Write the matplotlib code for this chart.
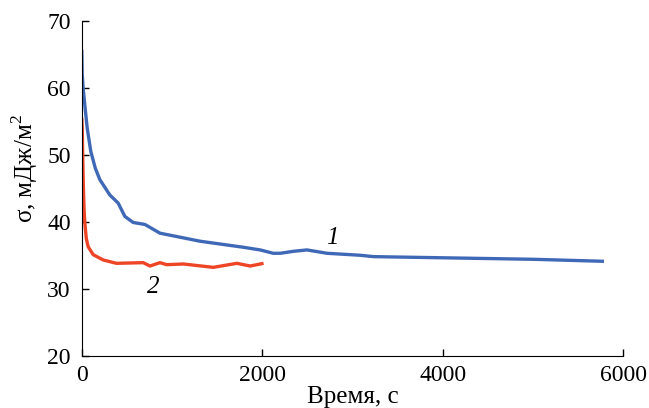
import matplotlib.pyplot as plt
import matplotlib as mpl

mpl.rcParams['font.family'] = 'Liberation Serif'
mpl.rcParams['font.size'] = 17
mpl.rcParams['mathtext.fontset'] = 'custom'
mpl.rcParams['mathtext.rm'] = 'Liberation Serif'

# curve 1 (blue)
t1 = [0, 5, 15, 33, 60, 100, 150, 200, 311, 403, 478, 570, 700, 867, 1015,
      1311, 1790, 1978, 2122, 2200, 2350, 2496, 2718, 3089, 3233, 4122, 5011, 5789]
s1 = [65.7, 62.0, 60.0, 57.5, 54.0, 50.5, 48.0, 46.3, 44.0, 42.8, 40.8, 39.9,
      39.6, 38.3, 37.9, 37.1, 36.2, 35.8, 35.3, 35.3, 35.6, 35.8, 35.3, 35.0,
      34.8, 34.6, 34.4, 34.1]

# curve 2 (red)
t2 = [0, 5, 10, 18, 25, 33, 50, 70, 126, 237, 385, 681, 756, 867, 941, 1126,
      1459, 1719, 1867, 2015]
s2 = [55.5, 54.0, 50.0, 45.0, 42.0, 40.0, 37.5, 36.3, 35.1, 34.3, 33.8, 33.9,
      33.4, 33.9, 33.6, 33.7, 33.2, 33.8, 33.4, 33.8]

fig = plt.figure(figsize=(6.49, 4.08), dpi=100)
ax = fig.add_axes([0.126, 0.128, 0.834, 0.821])

ax.plot(t1, s1, color='#3f69b6', lw=2.4, solid_joinstyle='round', solid_capstyle='butt')
ax.plot(t2, s2, color='#ee4526', lw=2.4, solid_joinstyle='round', solid_capstyle='butt')

ax.text(2774, 37.6, '1', fontstyle='italic', fontsize=18, ha='center', va='center')
ax.text(793, 30.3, '2', fontstyle='italic', fontsize=18, ha='center', va='center')

ax.set_xlim(0, 6000)
ax.set_ylim(20, 70)
ax.set_xticks([0, 2000, 4000, 6000])
ax.set_yticks([20, 30, 40, 50, 60, 70])
ax.spines['top'].set_visible(False)
ax.spines['right'].set_visible(False)
ax.tick_params(axis='x', direction='in', length=5, width=1, labelsize=17, pad=7)
ax.tick_params(axis='y', direction='in', length=5, width=1, labelsize=17, pad=8)
ax.set_xlabel('Время, с', fontsize=18, labelpad=0)
ax.set_ylabel('σ, мДж/м$^2$', fontsize=18)
ax.yaxis.set_label_coords(-0.078, 0.56)

fig.savefig('out.png', dpi=100)
